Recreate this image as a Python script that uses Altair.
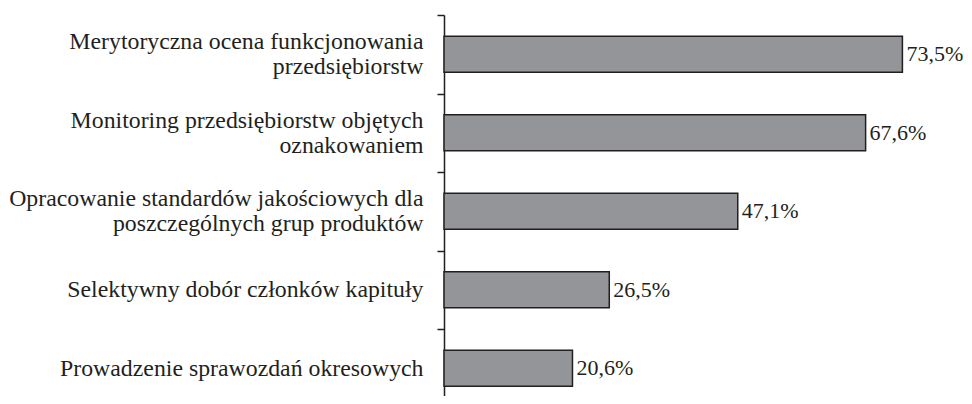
import altair as alt
import pandas as pd

categories = [
    "Merytoryczna ocena funkcjonowania|przedsiębiorstw",
    "Monitoring przedsiębiorstw objętych|oznakowaniem",
    "Opracowanie standardów jakościowych dla|poszczególnych grup produktów",
    "Selektywny dobór członków kapituły",
    "Prowadzenie sprawozdań okresowych",
]
values = [73.5, 67.6, 47.1, 26.5, 20.6]
labels = [f"{v:.1f}".replace(".", ",") + "%" for v in values]

df = pd.DataFrame({"category": categories, "value": values, "label": labels})

FONT = "Liberation Serif"
INK = "#231f20"

y_scale = alt.Scale(paddingInner=0, paddingOuter=0, range=[0, 392.5])
x_enc = alt.X("value:Q", scale=alt.Scale(domain=[0, 76]), axis=None)

y_enc = alt.Y(
    "category:N",
    sort=None,
    title=None,
    scale=y_scale,
    axis=alt.Axis(
        labelExpr="split(datum.label, '|')",
        labelFont=FONT,
        labelFontSize=23.8,
        labelColor=INK,
        labelAlign="right",
        labelLineHeight=25,
        labelLimit=600,
        labelPadding=14,
        labelOffset={
            "condition": {"test": "indexof(datum.label, '|') >= 0", "value": -12.5},
            "value": 0,
        },
        tickBand="extent",
        tickSize=7,
        tickWidth=1.5,
        tickColor=INK,
        domainColor=INK,
        domainWidth=1.5,
        grid=False,
    ),
)

bars = alt.Chart(df).mark_bar(
    size=36, color="#939598", stroke=INK, strokeWidth=1.5
).encode(x=x_enc, y=y_enc)

text = alt.Chart(df).mark_text(
    align="left", baseline="middle", dx=4, font=FONT, fontSize=22, color=INK
).encode(x=x_enc, y=alt.Y("category:N", sort=None, scale=y_scale), text="label:N")

chart = (
    (bars + text)
    .properties(
        width=474,
        height=381,
        autosize=alt.AutoSizeParams(type="none"),
        padding={"left": 436, "top": 7, "right": 46, "bottom": 0},
    )
    .configure_view(stroke=None)
)

chart.save("out.html", embed_options={"renderer": "svg", "actions": False})
